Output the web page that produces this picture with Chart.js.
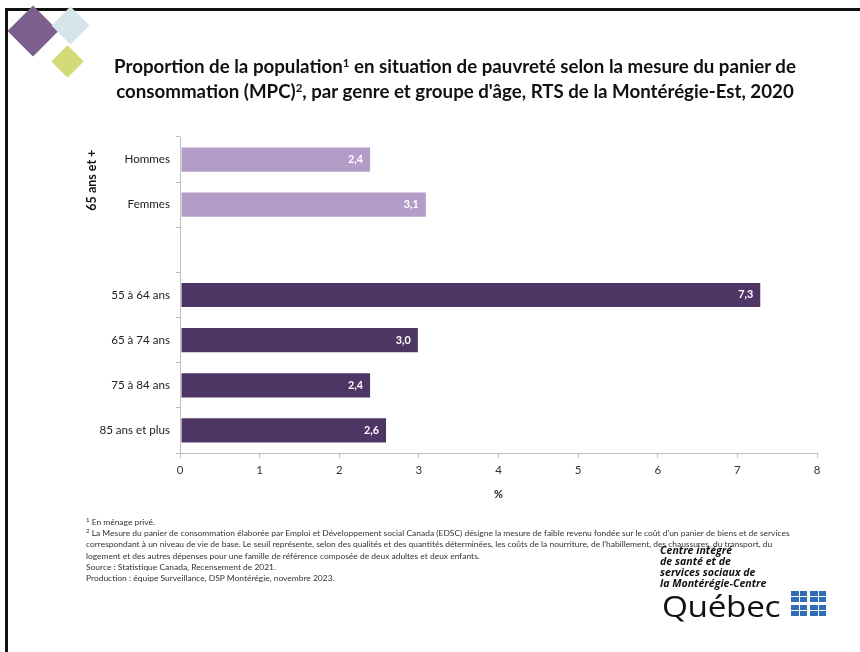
<!DOCTYPE html>
<html lang="fr">
<head>
<meta charset="utf-8">
<title>Pauvreté MPC — Montérégie-Est 2020</title>
<script src="https://cdn.jsdelivr.net/npm/chart.js@4.4.1/dist/chart.umd.min.js"></script>
<style>
  html, body { margin: 0; padding: 0; background: #fff; }
  #page { position: relative; width: 860px; height: 652px; overflow: hidden; font-family: Lato, sans-serif; }
  #cadre { position: absolute; left: 5px; top: 8px; right: -10px; bottom: -10px; border-left: 3px solid #111; border-top: 3px solid #111; }
  #chart { position: absolute; left: 0; top: 0; }
  .losange { position: absolute; transform: rotate(45deg); }
  #titre { position: absolute; left: 0; width: 910px; top: 54px; text-align: center; font-weight: 700; font-size: 18.7px; line-height: 25px; color: #111; }
  #titre sup { font-size: 11.5px; vertical-align: 6px; line-height: 0; }
  #notes { position: absolute; left: 86px; top: 517px; font-size: 8.45px; line-height: 11.2px; color: #333; white-space: nowrap; }
  #notes sup { font-size: 6px; vertical-align: 3px; line-height: 0; }
  #cisss { position: absolute; left: 660px; top: 545px; font: italic 700 10.6px/11px "Open Sans", sans-serif; color: #111; }
  #quebec { position: absolute; left: 662px; top: 590px; font: 400 29px/32px "Open Sans", sans-serif; color: #111; letter-spacing: -0.3px; transform-origin: 0 0; transform: scaleX(1.15); }
  .drapeau { position: absolute; width: 16px; height: 11px; background: #2f6db5; }
  .drapeau::before { content: ''; position: absolute; left: 0; right: 0; top: 5px; height: 1px; background: #fff; }
  .drapeau::after  { content: ''; position: absolute; top: 0; bottom: 0; left: 7.5px; width: 1px; background: #fff; }
</style>
</head>
<body>
<div id="page">
  <div id="cadre"></div>
  <div class="losange" style="left:15px;top:13px;width:36px;height:36px;background:#7d5f8e;"></div>
  <div class="losange" style="left:57px;top:12px;width:27px;height:27px;background:#d6e4ec;"></div>
  <div class="losange" style="left:56px;top:50px;width:23px;height:23px;background:#d3db78;"></div>
  <canvas id="chart" width="860" height="652"></canvas>
  <div id="titre">Proportion de la population<sup>1</sup> en situation de pauvreté selon la mesure du panier de<br>consommation (MPC)<sup>2</sup>, par genre et groupe d'âge, RTS de la Montérégie-Est, 2020</div>
  <div id="notes">
    <sup>1</sup> En ménage privé.<br>
    <sup>2</sup> La Mesure du panier de consommation élaborée par Emploi et Développement social Canada (EDSC) désigne la mesure de faible revenu fondée sur le coût d'un panier de biens et de services<br>
    correspondant à un niveau de vie de base. Le seuil représente, selon des qualités et des quantités déterminées, les coûts de la nourriture, de l'habillement, des chaussures, du transport, du<br>
    logement et des autres dépenses pour une famille de référence  composée de deux adultes et deux enfants.<br>
    Source : Statistique Canada, Recensement de 2021.<br>
    Production : équipe Surveillance, DSP Montérégie, novembre 2023.
  </div>
  <div id="cisss">Centre intégré<br>de santé et de<br>services sociaux de<br>la Montérégie-Centre</div>
  <div id="quebec">Québec</div>
  <div class="drapeau" style="left:791px;top:591px;"></div>
  <div class="drapeau" style="left:810px;top:591px;"></div>
  <div class="drapeau" style="left:791px;top:605px;"></div>
  <div class="drapeau" style="left:810px;top:605px;"></div>
</div>
<script>
// ── Données ─────────────────────────────────────────────
const categories  = ['Hommes', 'Femmes', '', '55 à 64 ans', '65 à 74 ans', '75 à 84 ans', '85 ans et plus'];
const proportions = [2.4, 3.1, null, 7.3, 3.0, 2.4, 2.6];
const xTicks      = [0, 1, 2, 3, 4, 5, 6, 7, 8];
const groupeLabel = '65 ans et +';
const groupeNb    = 2;   // les 2 premières catégories appartiennent au groupe

const VIOLET_PALE  = '#b49cc9';
const VIOLET_FONCE = '#4e3564';
const FONT = 'Lato, sans-serif';

const fmt = v => v.toFixed(1).replace('.', ',');

// Étiquettes de valeur à l'intérieur du bout des barres
const etiquettes = {
  id: 'etiquettes',
  afterDatasetsDraw(chart) {
    const ctx = chart.ctx;
    const meta = chart.getDatasetMeta(0);
    ctx.save();
    ctx.font = `700 10.8px ${FONT}`;
    ctx.fillStyle = '#fff';
    ctx.textAlign = 'right';
    ctx.textBaseline = 'middle';
    meta.data.forEach((bar, i) => {
      const v = proportions[i];
      if (v == null) return;
      ctx.fillText(fmt(v), bar.x - 8, bar.y);
    });
    ctx.restore();
  }
};

// Libellé vertical du groupe « 65 ans et + »
const groupe = {
  id: 'groupe',
  afterDraw(chart) {
    const y = chart.scales.y;
    const y0 = y.getPixelForValue(0), y1 = y.getPixelForValue(groupeNb - 1);
    const ctx = chart.ctx;
    ctx.save();
    ctx.translate(92, (y0 + y1) / 2 - 2);
    ctx.rotate(-Math.PI / 2);
    ctx.font = `700 12.5px ${FONT}`;
    ctx.fillStyle = '#111';
    ctx.textAlign = 'center';
    ctx.textBaseline = 'middle';
    ctx.fillText(groupeLabel, 0, 0);
    ctx.restore();
  }
};

new Chart(document.getElementById('chart'), {
  type: 'bar',
  data: {
    labels: categories,
    datasets: [{
      data: proportions,
      backgroundColor: ctx => ctx.dataIndex < groupeNb ? VIOLET_PALE : VIOLET_FONCE,
      borderColor: 'rgba(255,255,255,0.55)',
      borderWidth: 1,
      borderSkipped: false,
      categoryPercentage: 1,
      barPercentage: 0.58,
    }]
  },
  options: {
    indexAxis: 'y',
    responsive: false,
    animation: false,
    layout: { padding: { left: 0, right: 43, top: 137, bottom: 147 } },
    plugins: { legend: { display: false }, tooltip: { enabled: false } },
    scales: {
      x: {
        min: 0, max: 8,
        afterBuildTicks: s => { s.ticks = xTicks.map(v => ({ value: v })); },
        afterFit: s => { s.height = 52; },
        ticks: { color: '#333', font: { family: FONT, size: 11.5 }, padding: 5 },
        grid: { drawOnChartArea: false, tickLength: 5, color: '#bdbdbd' },
        border: { color: '#bdbdbd' },
        title: { display: true, text: '%', color: '#222', font: { family: FONT, size: 11, weight: '700' }, padding: { top: 8 } }
      },
      y: {
        afterFit: s => { s.width = 180; },
        ticks: { color: '#222', font: { family: FONT, size: 11.6 }, padding: 6 },
        grid: { offset: true, drawOnChartArea: false, tickLength: 4, color: '#bdbdbd' },
        border: { color: '#bdbdbd' }
      }
    }
  },
  plugins: [etiquettes, groupe]
});
</script>
</body>
</html>
